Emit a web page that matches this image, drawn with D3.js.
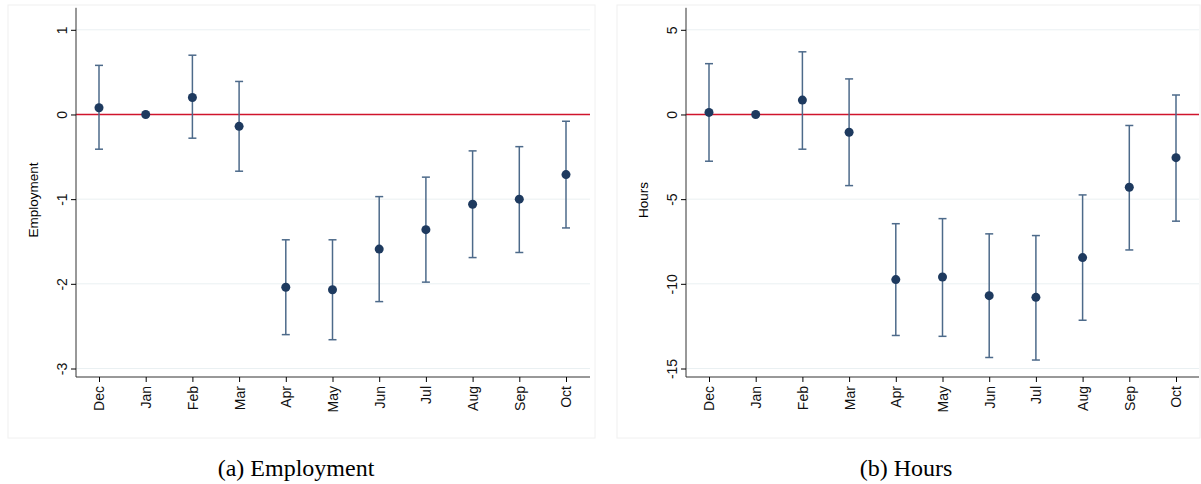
<!DOCTYPE html>
<html><head><meta charset="utf-8">
<script src="https://cdn.jsdelivr.net/npm/d3@7"></script>
<style>body{margin:0;background:#fff}</style></head>
<body><svg id="c" width="1201" height="484"></svg>
<script>
const months = ["Dec","Jan","Feb","Mar","Apr","May","Jun","Jul","Aug","Sep","Oct"];
const empEst = [0.08,0,0.2,-0.14,-2.04,-2.07,-1.59,-1.36,-1.06,-1.0,-0.71];
const empLo  = [-0.41,0,-0.28,-0.67,-2.6,-2.66,-2.21,-1.98,-1.69,-1.63,-1.34];
const empHi  = [0.58,0,0.7,0.39,-1.48,-1.48,-0.97,-0.74,-0.43,-0.38,-0.08];
const empTicks = [1,0,-1,-2,-3];
const hrsEst = [0.12,0,0.85,-1.05,-9.75,-9.6,-10.7,-10.8,-8.45,-4.3,-2.55];
const hrsLo  = [-2.76,0,-2.05,-4.2,-13.05,-13.1,-14.35,-14.5,-12.15,-8.0,-6.3];
const hrsHi  = [3.0,0,3.7,2.1,-6.45,-6.15,-7.05,-7.15,-4.75,-0.65,1.15];
const hrsTicks = [5,0,-5,-10,-15];

const svg = d3.select("#c");
const F = "14px 'Liberation Sans',Arial";
function panel(o){
  const g = svg.append("g");
  g.append("rect").attr("x",o.bx).attr("y",5).attr("width",o.bw).attr("height",433)
    .attr("fill","none").attr("stroke","#f0f0f0");
  const x = d3.scalePoint().domain(months).range([o.x0+23,o.x0+23+46.7*10]);
  const y = d3.scaleLinear().domain([o.ticks[4],o.ticks[0]]).range([368.5,29.8]);
  g.selectAll(".gr").data(o.ticks).join("line").attr("x1",o.x0).attr("x2",o.x1)
    .attr("y1",d=>y(d)).attr("y2",d=>y(d)).attr("stroke","#eaf0f2").attr("stroke-width",1);
  g.append("line").attr("x1",o.x0).attr("x2",o.x1).attr("y1",y(0)).attr("y2",y(0))
    .attr("stroke","#d0142c").attr("stroke-width",1.3);
  const ya = g.append("g").attr("transform",`translate(${o.x0},0)`)
    .call(d3.axisLeft(y).tickValues(o.ticks).tickSize(5).tickSizeOuter(0).tickFormat(d=>String(d)));
  ya.select(".domain").attr("d",`M0,${y.range()[1]-22}V377`).attr("stroke","#333");
  ya.selectAll("text").attr("transform","rotate(-90)").attr("x",0).attr("y",-9)
    .attr("dy",0).attr("text-anchor","middle").style("font",F).attr("fill","#111");
  const xa = g.append("g").attr("transform","translate(0,377)")
    .call(d3.axisBottom(x).tickSize(5).tickSizeOuter(0));
  xa.select(".domain").attr("d",`M${o.x0},0H${o.x1}`).attr("stroke","#333");
  xa.selectAll("text").attr("transform","rotate(-90)").attr("x",-9).attr("y",0)
    .attr("dy","0.35em").attr("text-anchor","end").style("font",F).attr("fill","#111");
  g.append("text").attr("transform",`translate(${o.x0-38},200) rotate(-90)`).attr("text-anchor","middle")
    .style("font","13.5px 'Liberation Sans',Arial").text(o.title);
  const c="#4d6a8a";
  months.forEach((m,i)=>{
    if(o.lo[i]!==o.hi[i]){
      g.append("line").attr("x1",x(m)).attr("x2",x(m)).attr("y1",y(o.lo[i])).attr("y2",y(o.hi[i])).attr("stroke",c).attr("stroke-width",1.5);
      [o.lo[i],o.hi[i]].forEach(v=>g.append("line").attr("x1",x(m)-4).attr("x2",x(m)+4).attr("y1",y(v)).attr("y2",y(v)).attr("stroke",c).attr("stroke-width",1.5));
    }
    g.append("circle").attr("cx",x(m)).attr("cy",y(o.est[i])).attr("r",4.5).attr("fill","#1e3a5f");
  });
  g.append("text").attr("x",o.cap).attr("y",476).attr("text-anchor","middle")
    .style("font","24px 'Liberation Serif','DejaVu Serif',serif").text(o.caption);
}
panel({x0:76,x1:590,bx:8,bw:587,ticks:empTicks,est:empEst,lo:empLo,hi:empHi,title:"Employment",caption:"(a) Employment",cap:296});
panel({x0:686,x1:1199,bx:617,bw:583,ticks:hrsTicks,est:hrsEst,lo:hrsLo,hi:hrsHi,title:"Hours",caption:"(b) Hours",cap:906});
</script></body></html>
